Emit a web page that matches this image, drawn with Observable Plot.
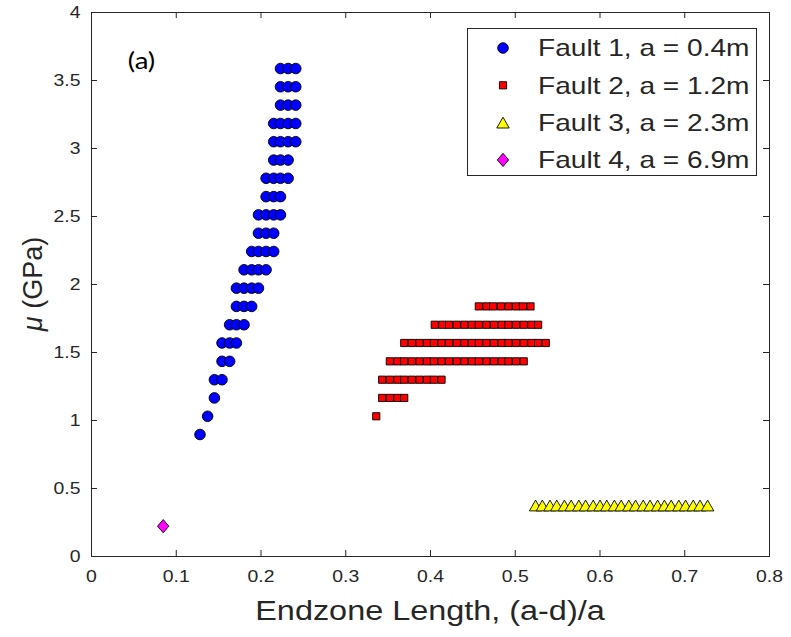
<!DOCTYPE html>
<html>
<head>
<meta charset="utf-8">
<script src="https://cdn.jsdelivr.net/npm/d3@7"></script>
<script src="https://cdn.jsdelivr.net/npm/@observablehq/plot@0.6"></script>
<style>
  body { margin: 0; background: #fff; }
  #chart { position: relative; width: 791px; height: 637px; }
</style>
</head>
<body>
<div id="chart"></div>
<script>
// ---- data: endzone length (a-d)/a against shear modulus mu (GPa) ----
const fault1Mu = [0.897, 1.031, 1.166, 1.300, 1.435, 1.570, 1.704, 1.839, 1.973, 2.108,
                  2.243, 2.377, 2.512, 2.646, 2.781, 2.915, 3.050, 3.184, 3.319, 3.454, 3.588];
const fault1X = [
  [0.128],
  [0.137],
  [0.145],
  [0.145, 0.154],
  [0.154, 0.163],
  [0.154, 0.163, 0.171],
  [0.163, 0.171, 0.180],
  [0.171, 0.180, 0.189],
  [0.171, 0.180, 0.189, 0.197],
  [0.180, 0.189, 0.197, 0.206],
  [0.189, 0.197, 0.206, 0.215],
  [0.197, 0.206, 0.215],
  [0.197, 0.206, 0.215, 0.223],
  [0.206, 0.215, 0.223],
  [0.206, 0.215, 0.223, 0.232],
  [0.215, 0.223, 0.232],
  [0.215, 0.223, 0.232, 0.241],
  [0.215, 0.223, 0.232, 0.241],
  [0.223, 0.232, 0.241],
  [0.223, 0.232, 0.241],
  [0.223, 0.232, 0.241]
];

const fault2Mu = [1.031, 1.166, 1.300, 1.435, 1.570, 1.704, 1.839];
const fault2X = [
  [0.336],
  [0.343, 0.352, 0.361, 0.369],
  [0.343, 0.352, 0.361, 0.369, 0.378, 0.387, 0.396, 0.404, 0.413],
  [0.352, 0.361, 0.369, 0.378, 0.387, 0.396, 0.404, 0.413, 0.422, 0.431,
   0.440, 0.449, 0.457, 0.466, 0.475, 0.484, 0.492, 0.501, 0.510],
  [0.369, 0.378, 0.387, 0.396, 0.404, 0.413, 0.422, 0.431, 0.440, 0.449,
   0.457, 0.466, 0.475, 0.484, 0.492, 0.501, 0.510, 0.519, 0.527, 0.536],
  [0.405, 0.414, 0.422, 0.431, 0.440, 0.449, 0.457, 0.466, 0.475, 0.484,
   0.492, 0.501, 0.510, 0.519, 0.527],
  [0.457, 0.466, 0.474, 0.483, 0.492, 0.501, 0.509, 0.518]
];

const fault3Mu = 0.375;
const fault3X = [0.524, 0.532, 0.541, 0.549, 0.558, 0.566, 0.575, 0.583, 0.592, 0.600,
                 0.608, 0.617, 0.625, 0.634, 0.642, 0.651, 0.659, 0.668, 0.676, 0.684,
                 0.693, 0.701, 0.710, 0.718, 0.727];

const fault4Mu = 0.223;
const fault4X = [0.0846];

const seriesLabels = ["Fault 1, a = 0.4m", "Fault 2, a = 1.2m", "Fault 3, a = 2.3m", "Fault 4, a = 6.9m"];

const xTicks = [0, 0.1, 0.2, 0.3, 0.4, 0.5, 0.6, 0.7, 0.8];
const xTickLabels = ["0", "0.1", "0.2", "0.3", "0.4", "0.5", "0.6", "0.7", "0.8"];
const yTicks = [0, 0.5, 1, 1.5, 2, 2.5, 3, 3.5, 4];
const yTickLabels = ["0", "0.5", "1", "1.5", "2", "2.5", "3", "3.5", "4"];

// ---- flatten rows into point tables ----
const rowsToPoints = (mus, xs) => mus.flatMap((mu, i) => xs[i].map(x => ({x, mu})));
const pts1 = rowsToPoints(fault1Mu, fault1X);
const pts2 = rowsToPoints(fault2Mu, fault2X);
const pts3 = fault3X.map(x => ({x, mu: fault3Mu}));
const pts4 = fault4X.map(x => ({x, mu: fault4Mu}));

// ---- marker shapes (size = pi r^2, as Plot passes it) ----
const rOf = size => Math.sqrt(size / Math.PI);
const symSquare = {draw(ctx, size) { const h = rOf(size); ctx.rect(-h, -h, 2 * h, 2 * h); }};
const symTriangle = {draw(ctx, size) {
  const r = rOf(size), w = r * 1.15, h = r;
  ctx.moveTo(0, -h); ctx.lineTo(w, h); ctx.lineTo(-w, h); ctx.closePath();
}};
const symDiamond = {draw(ctx, size) {
  const r = rOf(size), w = r * 0.86, h = r;
  ctx.moveTo(0, -h); ctx.lineTo(w, 0); ctx.lineTo(0, h); ctx.lineTo(-w, 0); ctx.closePath();
}};

const series = [
  {data: pts1, symbol: "circle", r: 5.3, fill: "#0000ff"},
  {data: pts2, symbol: symSquare, r: 3.6, fill: "#ff0000"},
  {data: pts3, symbol: symTriangle, r: 5.4, fill: "#ffff00"},
  {data: pts4, symbol: symDiamond, r: 6.6, fill: "#ff00ff"}
];

// ---- layout ----
const W = 791, H = 637;
const mL = 91, mR = 22, mT = 12, mB = 81;
const innerW = W - mL - mR, innerH = H - mT - mB;
const ink = "#262626";
const tick = 6;

const plot = Plot.plot({
  width: W, height: H,
  marginLeft: mL, marginRight: mR, marginTop: mT, marginBottom: mB,
  style: {fontFamily: "'Liberation Sans', Arial, sans-serif", background: "white", overflow: "visible"},
  x: {domain: [0, 0.8]},
  y: {domain: [0, 4]},
  marks: [
    Plot.axisX({ticks: xTicks, tickFormat: d => xTickLabels[xTicks.indexOf(d)], tickSize: 0,
                tickPadding: 13, fontSize: 17, color: ink, label: null}),
    Plot.axisY({ticks: yTicks, tickFormat: d => yTickLabels[yTicks.indexOf(d)], tickSize: 0,
                tickPadding: 11, fontSize: 17, color: ink, label: null}),
    // inward ticks on all four sides of the box
    Plot.tickX(xTicks, {x: d => d, insetTop: innerH - tick, stroke: ink}),
    Plot.tickX(xTicks, {x: d => d, insetBottom: innerH - tick, stroke: ink}),
    Plot.tickY(yTicks, {y: d => d, insetRight: innerW - tick, stroke: ink}),
    Plot.tickY(yTicks, {y: d => d, insetLeft: innerW - tick, stroke: ink}),
    Plot.frame({stroke: ink}),
    ...series.map(s => Plot.dot(s.data, {x: "x", y: "mu", symbol: s.symbol, r: s.r,
                                          fill: s.fill, stroke: "#000", strokeWidth: 0.9})),
    Plot.text(["(a)"], {frameAnchor: "top-left", dx: 50, dy: 40, fontSize: 23,
                        fontFamily: "Lato, 'Open Sans', sans-serif", fill: "#000", textAnchor: "middle"})
  ]
});

document.getElementById("chart").appendChild(plot);

const svg = d3.select(plot);

// axis titles
const fontMain = "'Liberation Sans', Arial, sans-serif";
svg.append("text")
  .attr("class", "wide-xl")
  .attr("x", mL + innerW / 2).attr("y", 620)
  .attr("text-anchor", "middle")
  .attr("font-family", fontMain).attr("font-size", 27).attr("fill", ink)
  .text("Endzone Length, (a-d)/a");

const ylab = svg.append("text")
  .attr("transform", `translate(42,${mT + innerH / 2}) rotate(-90)`)
  .attr("text-anchor", "middle")
  .attr("font-family", fontMain).attr("font-size", 27).attr("fill", ink);
ylab.append("tspan").attr("font-style", "italic").text("\u03bc");
ylab.append("tspan").text(" (GPa)");

// legend box inside the axes
const lg = svg.append("g").attr("text-anchor", "start");
lg.append("rect")
  .attr("x", 467.5).attr("y", 28.5).attr("width", 289).attr("height", 147)
  .attr("fill", "white").attr("stroke", ink);
series.forEach((s, i) => {
  const cy = 48 + i * 37.3;
  const shape = typeof s.symbol === "string" ? d3.symbolCircle : s.symbol;
  lg.append("path")
    .attr("transform", `translate(503,${cy})`)
    .attr("d", d3.symbol(shape, Math.PI * s.r * s.r)())
    .attr("fill", s.fill).attr("stroke", "#000").attr("stroke-width", 0.9);
  lg.append("text")
    .attr("class", "wide-lg")
    .attr("x", 538).attr("y", cy).attr("dy", "0.35em")
    .attr("text-anchor", "start")
    .attr("font-family", fontMain).attr("font-size", 24).attr("fill", ink)
    .text(seriesLabels[i]);
});

// the horizontal lettering runs a little wide; stretch glyph runs to suit
function widen(sel, k) {
  sel.each(function () {
    const len = this.getComputedTextLength();
    if (len > 0) {
      this.setAttribute("textLength", (len * k).toFixed(2));
      this.setAttribute("lengthAdjust", "spacingAndGlyphs");
    }
  });
}
widen(svg.selectAll("g[aria-label='x-axis tick label'] text, g[aria-label='y-axis tick label'] text"), 1.14);
widen(svg.selectAll("text.wide-xl"), 1.2);
widen(svg.selectAll("text.wide-lg"), 1.17);
widen(svg.selectAll("g[aria-label='text'] text"), 1.2);
</script>
</body>
</html>
